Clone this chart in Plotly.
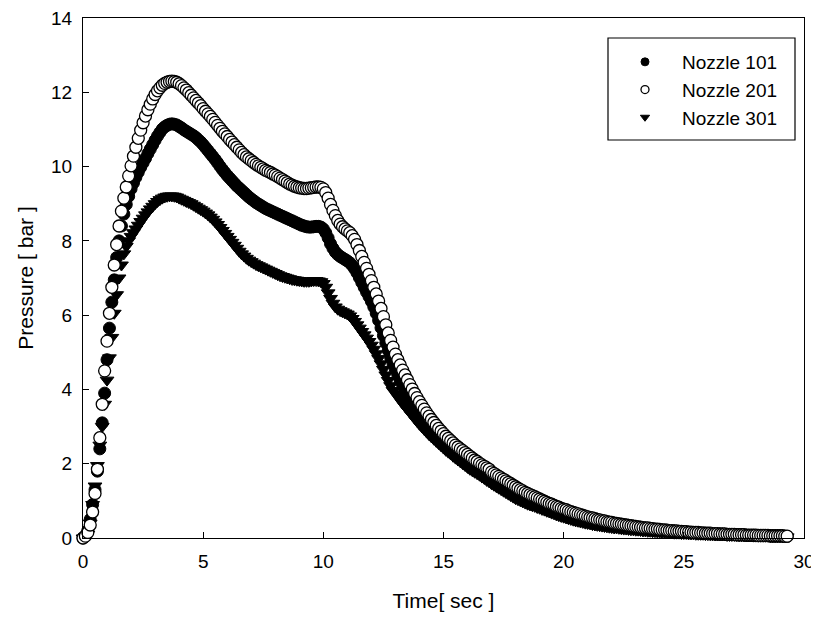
import plotly.graph_objects as go

TIME_STEP = 0.1  # sampling interval of the recorded data [sec]

nozzle_101 = [
    0.00, 0.05, 0.20, 0.50, 0.90, 1.30, 1.80, 2.40, 3.10, 3.90,
    4.80, 5.65, 6.35, 6.95, 7.55, 8.00, 8.40, 8.72, 8.98, 9.20,
    9.40, 9.56, 9.71, 9.85, 9.98, 10.10, 10.22, 10.35, 10.47, 10.59,
    10.71, 10.82, 10.92, 11.01, 11.07, 11.11, 11.14, 11.15, 11.14, 11.12,
    11.08, 11.04, 10.99, 10.95, 10.91, 10.87, 10.83, 10.78, 10.72, 10.66,
    10.59, 10.51, 10.43, 10.35, 10.27, 10.19, 10.10, 10.01, 9.92, 9.84,
    9.76, 9.69, 9.62, 9.55, 9.48, 9.42, 9.36, 9.30, 9.24, 9.18,
    9.13, 9.08, 9.03, 8.99, 8.95, 8.91, 8.87, 8.84, 8.81, 8.78,
    8.75, 8.72, 8.69, 8.66, 8.63, 8.60, 8.57, 8.54, 8.51, 8.48,
    8.45, 8.42, 8.40, 8.38, 8.37, 8.37, 8.38, 8.39, 8.39, 8.37,
    8.32, 8.22, 8.08, 7.92, 7.80, 7.70, 7.63, 7.58, 7.54, 7.50,
    7.46, 7.41, 7.34, 7.25, 7.14, 7.01, 6.88, 6.75, 6.62, 6.50,
    6.37, 6.22, 6.05, 5.86, 5.66, 5.45, 5.25, 5.05, 4.86, 4.69,
    4.53, 4.38, 4.24, 4.11, 3.99, 3.87, 3.76, 3.66, 3.56, 3.47,
    3.38, 3.29, 3.21, 3.13, 3.05, 2.97, 2.90, 2.83, 2.76, 2.70,
    2.63, 2.57, 2.51, 2.45, 2.39, 2.34, 2.28, 2.23, 2.18, 2.13,
    2.05, 2.00, 1.95, 1.90, 1.85, 1.80, 1.76, 1.72, 1.68, 1.64,
    1.60, 1.56, 1.52, 1.48, 1.44, 1.40, 1.37, 1.33, 1.30, 1.26,
    1.23, 1.20, 1.17, 1.14, 1.11, 1.08, 1.05, 1.02, 1.00, 0.97,
    0.94, 0.92, 0.89, 0.87, 0.85, 0.83, 0.80, 0.78, 0.76, 0.74,
    0.70, 0.68, 0.66, 0.64, 0.62, 0.60, 0.58, 0.56, 0.55, 0.53,
    0.51, 0.50, 0.48, 0.47, 0.45, 0.44, 0.43, 0.41, 0.40, 0.39,
    0.38, 0.37, 0.36, 0.35, 0.34, 0.33, 0.32, 0.31, 0.30, 0.29,
    0.28, 0.27, 0.27, 0.26, 0.25, 0.24, 0.24, 0.23, 0.22, 0.22,
    0.21, 0.20, 0.20, 0.19, 0.19, 0.18, 0.18, 0.17, 0.17, 0.16,
    0.16, 0.15, 0.15, 0.14, 0.14, 0.14, 0.13, 0.13, 0.12, 0.12,
    0.12, 0.11, 0.11, 0.11, 0.10, 0.10, 0.10, 0.10, 0.09, 0.09,
    0.09, 0.09, 0.08, 0.08, 0.08, 0.08, 0.07, 0.07, 0.07, 0.07,
    0.07, 0.06, 0.06, 0.06, 0.06, 0.06, 0.05, 0.05, 0.05, 0.05,
    0.05, 0.05, 0.04, 0.04,
]

nozzle_201 = [
    0.00, 0.05, 0.15, 0.35, 0.70, 1.20, 1.85, 2.70, 3.60, 4.50,
    5.30, 6.05, 6.75, 7.35, 7.90, 8.40, 8.80, 9.15, 9.45, 9.75,
    10.02, 10.28, 10.52, 10.76, 10.98, 11.18, 11.36, 11.53, 11.68, 11.82,
    11.94, 12.04, 12.12, 12.19, 12.24, 12.27, 12.29, 12.30, 12.29, 12.27,
    12.23, 12.18, 12.12, 12.06, 11.99, 11.92, 11.85, 11.78, 11.71, 11.64,
    11.56, 11.49, 11.42, 11.35, 11.27, 11.19, 11.11, 11.03, 10.95, 10.88,
    10.81, 10.73, 10.66, 10.59, 10.52, 10.45, 10.38, 10.32, 10.26, 10.21,
    10.16, 10.11, 10.06, 10.02, 9.98, 9.94, 9.90, 9.87, 9.84, 9.80,
    9.77, 9.73, 9.69, 9.65, 9.61, 9.57, 9.53, 9.50, 9.47, 9.45,
    9.43, 9.42, 9.41, 9.41, 9.42, 9.43, 9.44, 9.45, 9.45, 9.44,
    9.40, 9.30, 9.15, 8.98, 8.82, 8.68, 8.55, 8.45, 8.38, 8.32,
    8.27, 8.22, 8.14, 8.04, 7.90, 7.74, 7.58, 7.42, 7.26, 7.10,
    6.93, 6.75, 6.57, 6.38, 6.18, 5.96, 5.74, 5.52, 5.32, 5.14,
    4.95, 4.80, 4.66, 4.52, 4.39, 4.26, 4.13, 4.01, 3.89, 3.78,
    3.67, 3.57, 3.47, 3.37, 3.28, 3.19, 3.11, 3.03, 2.95, 2.88,
    2.81, 2.74, 2.68, 2.62, 2.56, 2.50, 2.45, 2.40, 2.35, 2.30,
    2.25, 2.20, 2.15, 2.10, 2.06, 2.01, 1.97, 1.93, 1.89, 1.85,
    1.78, 1.74, 1.70, 1.66, 1.62, 1.58, 1.54, 1.50, 1.46, 1.42,
    1.38, 1.34, 1.30, 1.27, 1.23, 1.20, 1.17, 1.14, 1.11, 1.08,
    1.05, 1.02, 0.99, 0.96, 0.93, 0.91, 0.88, 0.85, 0.83, 0.80,
    0.78, 0.76, 0.73, 0.71, 0.69, 0.67, 0.65, 0.63, 0.61, 0.59,
    0.57, 0.55, 0.54, 0.52, 0.50, 0.49, 0.47, 0.46, 0.44, 0.43,
    0.42, 0.40, 0.39, 0.38, 0.37, 0.36, 0.35, 0.34, 0.33, 0.32,
    0.31, 0.30, 0.29, 0.28, 0.27, 0.27, 0.26, 0.25, 0.24, 0.24,
    0.23, 0.22, 0.22, 0.21, 0.20, 0.20, 0.19, 0.19, 0.18, 0.18,
    0.17, 0.17, 0.16, 0.16, 0.15, 0.15, 0.15, 0.14, 0.14, 0.13,
    0.13, 0.13, 0.12, 0.12, 0.12, 0.11, 0.11, 0.11, 0.10, 0.10,
    0.10, 0.10, 0.09, 0.09, 0.09, 0.09, 0.08, 0.08, 0.08, 0.08,
    0.08, 0.07, 0.07, 0.07, 0.07, 0.07, 0.06, 0.06, 0.06, 0.06,
    0.06, 0.06, 0.05, 0.05,
]

nozzle_301 = [
    0.00, 0.02, 0.10, 0.40, 0.90, 1.40, 1.95, 2.50, 3.00, 3.60,
    4.25, 4.85, 5.40, 6.05, 6.55, 7.00, 7.35, 7.65, 7.85, 8.00,
    8.12, 8.22, 8.32, 8.42, 8.52, 8.61, 8.70, 8.78, 8.86, 8.93,
    9.00, 9.06, 9.11, 9.15, 9.18, 9.20, 9.21, 9.21, 9.20, 9.18,
    9.15, 9.12, 9.09, 9.06, 9.03, 9.00, 8.96, 8.92, 8.88, 8.84,
    8.80, 8.75, 8.70, 8.64, 8.58, 8.51, 8.44, 8.36, 8.28, 8.20,
    8.12, 8.04, 7.96, 7.88, 7.80, 7.72, 7.65, 7.59, 7.53, 7.48,
    7.44, 7.40, 7.36, 7.33, 7.30, 7.27, 7.24, 7.21, 7.18, 7.15,
    7.12, 7.09, 7.06, 7.04, 7.02, 7.00, 6.98, 6.96, 6.95, 6.94,
    6.93, 6.92, 6.91, 6.91, 6.91, 6.92, 6.93, 6.93, 6.92, 6.90,
    6.85, 6.75, 6.60, 6.45, 6.32, 6.22, 6.16, 6.12, 6.09, 6.06,
    6.03, 5.98, 5.91, 5.83, 5.74, 5.65, 5.56, 5.47, 5.38, 5.29,
    5.19, 5.08, 4.96, 4.83, 4.69, 4.54, 4.39, 4.24, 4.10, 3.97,
    3.90, 3.80, 3.71, 3.62, 3.54, 3.46, 3.38, 3.30, 3.22, 3.14,
    3.06, 2.99, 2.92, 2.85, 2.78, 2.72, 2.66, 2.60, 2.54, 2.48,
    2.42, 2.36, 2.31, 2.26, 2.20, 2.15, 2.10, 2.05, 2.00, 1.95,
    1.90, 1.85, 1.81, 1.77, 1.73, 1.69, 1.64, 1.60, 1.55, 1.51,
    1.46, 1.42, 1.38, 1.34, 1.30, 1.26, 1.22, 1.18, 1.14, 1.10,
    1.06, 1.03, 1.00, 0.97, 0.94, 0.91, 0.89, 0.87, 0.85, 0.82,
    0.80, 0.77, 0.75, 0.72, 0.70, 0.67, 0.65, 0.62, 0.60, 0.58,
    0.56, 0.54, 0.52, 0.50, 0.48, 0.46, 0.45, 0.43, 0.42, 0.40,
    0.39, 0.38, 0.36, 0.35, 0.34, 0.33, 0.32, 0.31, 0.30, 0.29,
    0.28, 0.27, 0.27, 0.26, 0.25, 0.24, 0.24, 0.23, 0.22, 0.22,
    0.21, 0.21, 0.20, 0.19, 0.19, 0.18, 0.18, 0.17, 0.17, 0.16,
    0.16, 0.15, 0.15, 0.15, 0.14, 0.14, 0.13, 0.13, 0.13, 0.12,
    0.12, 0.12, 0.11, 0.11, 0.11, 0.10, 0.10, 0.10, 0.10, 0.09,
    0.09, 0.09, 0.09, 0.08, 0.08, 0.08, 0.08, 0.08, 0.07, 0.07,
    0.07, 0.07, 0.07, 0.06, 0.06, 0.06, 0.06, 0.06, 0.06, 0.05,
    0.05, 0.05, 0.05, 0.05, 0.05, 0.05, 0.04, 0.04, 0.04, 0.04,
    0.04, 0.04, 0.04, 0.03,
]

series_names = ["Nozzle 101", "Nozzle 201", "Nozzle 301"]
x_ticks = [0, 5, 10, 15, 20, 25, 30]
y_ticks = [0, 2, 4, 6, 8, 10, 12, 14]

time = [round(i * TIME_STEP, 1) for i in range(len(nozzle_101))]

FONT = "Liberation Sans, Arial, sans-serif"
styles = {
    "Nozzle 101": dict(symbol="circle", color="black", line=dict(color="black", width=1)),
    "Nozzle 201": dict(symbol="circle", color="white", line=dict(color="black", width=1.3)),
    "Nozzle 301": dict(symbol="triangle-down", color="black", line=dict(color="black", width=1)),
}
values = {"Nozzle 101": nozzle_101, "Nozzle 201": nozzle_201, "Nozzle 301": nozzle_301}

# The page body has an 8px margin, so the figure starts at (8, 8) in the window.
OFF = 8
FIG_W, FIG_H = 819 - OFF, 621 - OFF
# target plot area in window pixels: x 83..804, y 18..538
L, R, T, B = 83 - OFF, 819 - 804, 18 - OFF, 621 - 538
PW, PH = FIG_W - L - R, FIG_H - T - B


def px_x(px):  # window pixel -> paper x
    return (px - OFF - L) / PW


def px_y(py):  # window pixel -> paper y
    return (FIG_H - B - (py - OFF)) / PH


fig = go.Figure()
for name in ["Nozzle 101", "Nozzle 301", "Nozzle 201"]:
    st = styles[name]
    fig.add_trace(go.Scatter(
        x=time, y=values[name], mode="markers", name=name, showlegend=False,
        cliponaxis=False,
        marker=dict(symbol=st["symbol"], size=12, color=st["color"], line=st["line"]),
    ))
for name in series_names:
    st = styles[name]
    fig.add_trace(go.Scatter(
        x=[None], y=[None], mode="markers", name=name, showlegend=True,
        marker=dict(symbol=st["symbol"], size=8, color=st["color"], line=st["line"]),
    ))

fig.add_shape(type="rect", xref="paper", yref="paper",
              x0=px_x(608), x1=px_x(795), y0=px_y(140), y1=px_y(38),
              line=dict(color="black", width=1.2), fillcolor="white", layer="above")

fig.update_layout(
    width=FIG_W, height=FIG_H,
    margin=dict(l=L, r=R, t=T, b=B),
    paper_bgcolor="white", plot_bgcolor="white",
    font=dict(family=FONT, color="black", size=18),
    legend=dict(
        x=px_x(608), y=px_y(43), xanchor="left", yanchor="top",
        borderwidth=0, bgcolor="rgba(0,0,0,0)",
        font=dict(size=19, family=FONT, color="black"), itemwidth=64,
        tracegroupgap=0,
    ),
)
fig.update_xaxes(
    range=[0, 30], tickvals=x_ticks, ticks="inside", ticklen=6, tickwidth=1,
    tickcolor="black", showline=True, linecolor="black", linewidth=1.3, mirror=True,
    showgrid=False, zeroline=False, tickfont=dict(size=19), automargin=False,
    ticklabelstandoff=6, ticklabeloverflow="allow",
    title=dict(text="Time[ sec ]", font=dict(size=21), standoff=22),
)
fig.update_yaxes(
    range=[0, 14], tickvals=y_ticks, ticks="inside", ticklen=6, tickwidth=1,
    tickcolor="black", showline=True, linecolor="black", linewidth=1.3, mirror=True,
    showgrid=False, zeroline=False, tickfont=dict(size=19), automargin=False,
    ticklabelstandoff=6, ticklabeloverflow="allow",
    title=dict(text="Pressure [ bar ]", font=dict(size=21), standoff=11),
)

fig.write_html("out.html")
